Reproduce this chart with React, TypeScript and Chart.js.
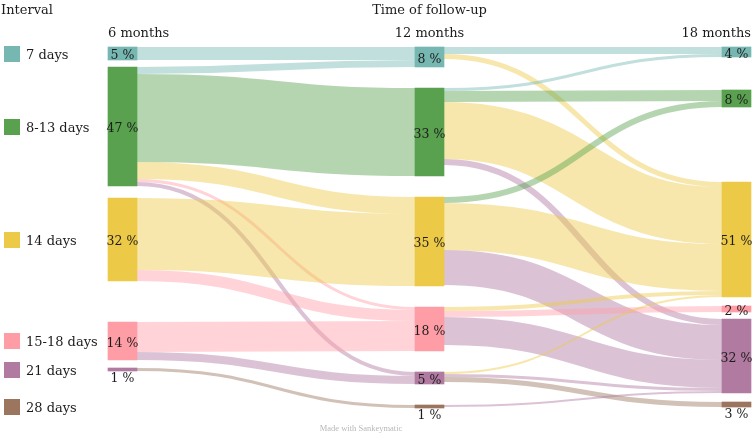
import { useEffect, useRef } from 'react';
import { Chart, registerables } from 'chart.js';

Chart.register(...registerables);

// ---------- data ----------
const STAGES = ['6 months', '12 months', '18 months'];
const INTERVALS = ['7 days', '8-13 days', '14 days', '15-18 days', '21 days', '28 days'];
const COLORS = ['#76b7b2', '#59a14f', '#edc948', '#ff9da7', '#b07aa1', '#9c755f'];

// [interval at earlier stage, interval at later stage, size]
const FLOWS_6_TO_12: [string, string, number][] = [
  ['7 days', '7 days', 13],
  ['8-13 days', '7 days', 7],
  ['8-13 days', '8-13 days', 88],
  ['8-13 days', '14 days', 17],
  ['8-13 days', '15-18 days', 3],
  ['8-13 days', '21 days', 4],
  ['14 days', '14 days', 72],
  ['14 days', '15-18 days', 11],
  ['15-18 days', '15-18 days', 30],
  ['15-18 days', '21 days', 8],
  ['21 days', '28 days', 3],
];

const FLOWS_12_TO_18: [string, string, number][] = [
  ['7 days', '7 days', 7],
  ['7 days', '14 days', 5],
  ['8-13 days', '7 days', 3],
  ['8-13 days', '8-13 days', 11],
  ['8-13 days', '14 days', 57],
  ['8-13 days', '21 days', 6],
  ['14 days', '8-13 days', 6],
  ['14 days', '14 days', 47],
  ['14 days', '21 days', 35],
  ['15-18 days', '14 days', 4],
  ['15-18 days', '15-18 days', 6],
  ['15-18 days', '21 days', 28],
  ['21 days', '14 days', 2],
  ['21 days', '21 days', 3],
  ['21 days', '28 days', 5],
  ['28 days', '21 days', 2],
];

// node labels (percent of patients at each stage), indexed like INTERVALS
const PCT_6_MONTHS: (number | null)[] = [5, 47, 32, 14, 1, null];
const PCT_12_MONTHS: (number | null)[] = [8, 33, 35, 18, 5, 1];
const PCT_18_MONTHS: (number | null)[] = [4, 8, 51, 2, 32, 3];

// ---------- layout / style ----------
const LAYOUT = {
  width: 755,
  height: 436,
  padLeft: 108,
  padRight: 4,
  padBottom: 28,
  axisHeight: 47,
  nodeWidth: 29,
  flowAlpha: 0.45,
  // space above each node of a column, in flow units (nodes were hand-arranged)
  nodeGaps: [
    [0, 7, 12, 41, 8],
    [0, 21, 21, 21, 21, 21],
    [0, 33, 75, 9, 7, 9],
  ],
};
const FONT = 'DejaVu Serif';
const TEXT = '#1c1c1c';

type SLink = { s: SNode; t: SNode; v: number; sy: number; ty: number };
type SNode = { stage: number; name: string; cat: number; size: number; y0: number; y1: number; out: SLink[]; inn: SLink[] };

function buildGraph() {
  const stageFlows = [FLOWS_6_TO_12, FLOWS_12_TO_18];
  const nodes: SNode[][] = STAGES.map(() => []);
  const links: SLink[] = [];
  const get = (stage: number, name: string) => {
    let n = nodes[stage].find((d) => d.name === name);
    if (!n) {
      n = { stage, name, cat: INTERVALS.indexOf(name), size: 0, y0: 0, y1: 0, out: [], inn: [] };
      nodes[stage].push(n);
    }
    return n;
  };
  stageFlows.forEach((flows, s) =>
    flows.forEach(([a, b, v]) => {
      const src = get(s, a);
      const tgt = get(s + 1, b);
      const l: SLink = { s: src, t: tgt, v, sy: 0, ty: 0 };
      src.out.push(l);
      tgt.inn.push(l);
      links.push(l);
    })
  );
  const sum = (ls: SLink[]) => ls.reduce((acc, l) => acc + l.v, 0);
  nodes.forEach((col, stage) => {
    col.sort((p, q) => p.cat - q.cat);
    let y = 0;
    col.forEach((n, i) => {
      n.size = Math.max(sum(n.out), sum(n.inn));
      y += LAYOUT.nodeGaps[stage][i] ?? 0;
      n.y0 = y;
      n.y1 = y + n.size;
      y = n.y1;
    });
  });
  nodes.flat().forEach((n) => {
    n.out.sort((a, b) => a.t.y0 - b.t.y0);
    let y = n.y0;
    n.out.forEach((l) => { l.sy = y; y += l.v; });
    n.inn.sort((a, b) => a.s.y0 - b.s.y0);
    y = n.y0;
    n.inn.forEach((l) => { l.ty = y; y += l.v; });
  });
  const extent = Math.max(...nodes.map((col) => (col.length ? col[col.length - 1].y1 : 0)));
  return { nodes, links, extent };
}

function hexA(hex: string, a: number) {
  const v = parseInt(hex.slice(1), 16);
  return `rgba(${(v >> 16) & 255},${(v >> 8) & 255},${v & 255},${a})`;
}

export default function App() {
  const ref = useRef<HTMLCanvasElement | null>(null);

  useEffect(() => {
    const canvas = ref.current;
    if (!canvas) return;
    const graph = buildGraph();
    const PCTS = [PCT_6_MONTHS, PCT_12_MONTHS, PCT_18_MONTHS];
    const plotW = LAYOUT.width - LAYOUT.padLeft - LAYOUT.padRight;
    const pxPerStage = (plotW - LAYOUT.nodeWidth) / (STAGES.length - 1);
    const half = LAYOUT.nodeWidth / 2 / pxPerStage;

    const flowPlugin = {
      id: 'sankeyFlows',
      beforeDatasetsDraw(chart: any) {
        const { ctx } = chart;
        const x = chart.scales.x;
        const y = chart.scales.y;
        ctx.save();
        graph.links.forEach((l) => {
          const x0 = x.getPixelForValue(l.s.stage) + LAYOUT.nodeWidth / 2;
          const x1 = x.getPixelForValue(l.t.stage) - LAYOUT.nodeWidth / 2;
          const a0 = y.getPixelForValue(l.sy);
          const a1 = y.getPixelForValue(l.sy + l.v);
          const b0 = y.getPixelForValue(l.ty);
          const b1 = y.getPixelForValue(l.ty + l.v);
          const ys = (a0 + a1) / 2;
          const yt = (b0 + b1) / 2;
          const xm = (x0 + x1) / 2;
          ctx.beginPath();
          ctx.moveTo(x0, ys);
          ctx.bezierCurveTo(xm, ys, xm, yt, x1, yt);
          ctx.lineWidth = Math.abs(a1 - a0);
          ctx.lineCap = 'butt';
          ctx.strokeStyle = hexA(COLORS[l.t.cat], LAYOUT.flowAlpha);
          ctx.stroke();
        });
        ctx.restore();
      },
    };

    const labelPlugin = {
      id: 'sankeyLabels',
      afterDatasetsDraw(chart: any) {
        const { ctx } = chart;
        const x = chart.scales.x;
        const y = chart.scales.y;
        ctx.save();
        ctx.font = `12.5px "${FONT}"`;
        ctx.fillStyle = TEXT;
        ctx.textAlign = 'center';
        ctx.textBaseline = 'alphabetic';
        graph.nodes.forEach((col, stage) =>
          col.forEach((n) => {
            const p = PCTS[stage][n.cat];
            if (p == null) return;
            const cx = x.getPixelForValue(stage);
            const top = y.getPixelForValue(n.y0);
            const bot = y.getPixelForValue(n.y1);
            const h = Math.abs(bot - top);
            const by = h < 6 ? Math.max(top, bot) + 11 : (top + bot) / 2 + 5.5;
            ctx.fillText(`${p} %`, cx, by);
          })
        );
        ctx.restore();
      },
      afterDraw(chart: any) {
        const { ctx } = chart;
        const y = chart.scales.y;
        ctx.save();
        ctx.fillStyle = TEXT;
        ctx.font = `13px "${FONT}"`;
        ctx.textAlign = 'left';
        ctx.textBaseline = 'alphabetic';
        ctx.fillText('Interval', 1, 14);
        INTERVALS.forEach((name, ci) => {
          let node: SNode | undefined;
          for (const col of graph.nodes) {
            node = col.find((n) => n.cat === ci);
            if (node) break;
          }
          if (!node) return;
          const cy = (y.getPixelForValue(node.y0) + y.getPixelForValue(node.y1)) / 2;
          ctx.fillStyle = COLORS[ci];
          ctx.fillRect(4, Math.round(cy - 8), 16, 16);
          ctx.fillStyle = TEXT;
          ctx.fillText(name, 26, cy + 5);
        });
        ctx.font = `8.5px "Liberation Serif"`;
        ctx.fillStyle = '#b8b8b8';
        ctx.textAlign = 'center';
        ctx.fillText('Made with Sankeymatic', 361, 431);
        ctx.restore();
      },
    };

    const chart = new Chart(canvas, {
      type: 'bar',
      data: {
        datasets: INTERVALS.map((name, ci) => ({
          label: name,
          data: graph.nodes.flatMap((col, stage) =>
            col.filter((n) => n.name === name).map((n) => ({ x: stage, y: [n.y0, n.y1] }))
          ),
          backgroundColor: COLORS[ci],
          borderWidth: 0,
          barThickness: LAYOUT.nodeWidth,
          grouped: false,
          clip: false,
        })) as any,
      },
      options: {
        animation: false,
        responsive: false,
        maintainAspectRatio: false,
        events: [],
        layout: {
          padding: { left: LAYOUT.padLeft, right: LAYOUT.padRight, top: 0, bottom: LAYOUT.padBottom },
        },
        scales: {
          x: {
            type: 'linear',
            position: 'top',
            min: -half,
            max: STAGES.length - 1 + half,
            bounds: 'data',
            offset: false,
            grid: { display: false },
            border: { display: false },
            afterBuildTicks: (s: any) => {
              s.ticks = STAGES.map((_, i) => ({
                value: i === 0 ? s.min : i === STAGES.length - 1 ? s.max : i,
              }));
            },
            afterFit: (s: any) => {
              s.height = LAYOUT.axisHeight;
            },
            ticks: {
              autoSkip: false,
              maxRotation: 0,
              align: 'inner',
              padding: -2,
              color: TEXT,
              font: { family: FONT, size: 13 },
              callback: (_v: any, i: number) => STAGES[i],
            },
            title: {
              display: true,
              text: 'Time of follow-up',
              color: TEXT,
              font: { family: FONT, size: 13 },
              padding: { top: 2.5, bottom: 0 },
            },
          } as any,
          y: {
            type: 'linear',
            display: false,
            reverse: true,
            min: 0,
            max: graph.extent,
          },
        },
        plugins: {
          legend: { display: false },
          tooltip: { enabled: false },
        },
      },
      plugins: [flowPlugin, labelPlugin],
    });
    return () => chart.destroy();
  }, []);

  return (
    <div style={{ position: 'absolute', left: 0, top: 0, width: LAYOUT.width, height: LAYOUT.height, background: '#fff' }}>
      <canvas ref={ref} width={LAYOUT.width} height={LAYOUT.height} style={{ display: 'block', width: LAYOUT.width, height: LAYOUT.height }} />
    </div>
  );
}
